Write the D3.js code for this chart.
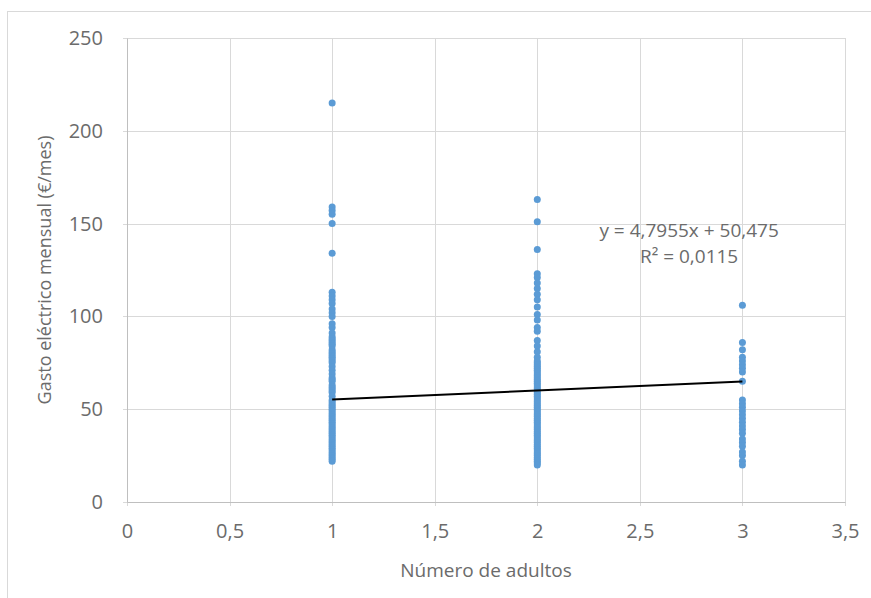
<!DOCTYPE html>
<html>
<head>
<meta charset="utf-8">
<script src="https://cdn.jsdelivr.net/npm/d3@7"></script>
<style>
  html, body { margin: 0; background: #fff; overflow: hidden; }
  svg { display: block; }
  text { font-family: "Open Sans", sans-serif; fill: #6b6b6b; }
</style>
</head>
<body>
<svg id="chart"></svg>
<script>
// gasto mensual (€/mes) por número de adultos
var adultos1 = [215, 159, 157, 155, 150, 134, 113, 111, 109, 107, 104, 102, 100, 96, 94, 91,
  89, 88, 87, 86, 85, 84, 82, 81, 80, 79, 78, 77, 76, 75, 73, 71, 69, 67, 66, 65, 63, 62, 61, 60, 59, 57,
  55, 54, 53, 52, 51, 50, 49, 48, 47, 46, 45, 44, 43, 42, 41, 40, 39, 38, 37, 36, 35, 34,
  33, 32, 31, 30, 29, 28, 27, 26, 25, 24, 23, 22]
var adultos2 = [163, 151, 136, 123, 121, 118, 115, 112, 109, 105, 101, 98, 94, 92, 87, 84, 81,
  78, 76, 75, 74, 73, 72, 71, 70, 69, 68, 67, 66, 65, 64, 63, 62, 61, 60, 59, 58, 57, 56, 55,
  54, 53, 52, 51, 50, 49, 48, 47, 46, 45, 44, 43, 42, 41, 40, 39, 38, 37, 36, 35, 34, 33,
  32, 31, 30, 29, 28, 27, 26, 25, 24, 23, 22, 21, 20]
var adultos3 = [106, 86, 82, 78, 76, 74, 72, 70, 65, 55, 53, 51, 49, 47, 45, 43, 41, 39, 37,
  34, 32, 30, 27, 25, 22, 20]

var xTicks = [0, 0.5, 1, 1.5, 2, 2.5, 3, 3.5]
var yTicks = [0, 50, 100, 150, 200, 250]

// linea de tendencia (Excel)
var pendiente = 4.7955
var ordenada = 50.475
var r2Texto = "R² = 0,0115"
var ecTexto = "y = 4,7955x + 50,475"

var dimensions = {
  width: 871,
  height: 598,
  margin: { top: 38, bottom: 96, right: 26, left: 127 }
}
dimensions.boundedWidth = dimensions.width - dimensions.margin.left - dimensions.margin.right
dimensions.boundedHeight = dimensions.height - dimensions.margin.top - dimensions.margin.bottom

var points = []
adultos1.forEach(function (v) { points.push({ x: 1, y: v }) })
adultos2.forEach(function (v) { points.push({ x: 2, y: v }) })
adultos3.forEach(function (v) { points.push({ x: 3, y: v }) })

var es = d3.formatLocale({ decimal: ",", thousands: ".", grouping: [3], currency: ["", "€"] })
var fmt = es.format("~g")

var svg = d3.select("#chart")
  .attr("width", dimensions.width)
  .attr("height", dimensions.height)

// marco del gráfico
svg.append("rect")
  .attr("x", 7.5).attr("y", 11.5)
  .attr("width", 900).attr("height", 700)
  .attr("fill", "#fff")
  .attr("stroke", "#d9d9d9")

var bounds = svg.append("g")
  .attr("transform", "translate(" + dimensions.margin.left + "," + dimensions.margin.top + ")")

var xScale = d3.scaleLinear()
  .domain([0, 3.5])
  .range([0, dimensions.boundedWidth])

var yScale = d3.scaleLinear()
  .domain([0, 250])
  .range([dimensions.boundedHeight, 0])

// rejilla
bounds.append("g")
  .selectAll("line")
  .data(yTicks)
  .join("line")
  .attr("x1", -4).attr("x2", dimensions.boundedWidth)
  .attr("y1", function (d) { return Math.round(yScale(d)) + 0.5 })
  .attr("y2", function (d) { return Math.round(yScale(d)) + 0.5 })
  .attr("stroke", "#d9d9d9")

bounds.append("g")
  .selectAll("line")
  .data(xTicks)
  .join("line")
  .attr("x1", function (d) { return Math.round(xScale(d)) + 0.5 })
  .attr("x2", function (d) { return Math.round(xScale(d)) + 0.5 })
  .attr("y1", 0).attr("y2", dimensions.boundedHeight + 4)
  .attr("stroke", "#d9d9d9")

// ejes
var yAxis = bounds.append("g")
  .call(d3.axisLeft(yScale).tickValues(yTicks).tickSize(0).tickPadding(24).tickFormat(fmt))
yAxis.select(".domain").attr("stroke", "#bfbfbf")
yAxis.selectAll("text").style("font-size", "20px").attr("fill", "#6b6b6b")

var xAxis = bounds.append("g")
  .attr("transform", "translate(0," + dimensions.boundedHeight + ")")
  .call(d3.axisBottom(xScale).tickValues(xTicks).tickSize(0).tickPadding(22).tickFormat(fmt))
xAxis.select(".domain").attr("stroke", "#bfbfbf")
xAxis.selectAll("text").style("font-size", "20px").attr("fill", "#6b6b6b")

// puntos
bounds.append("g")
  .selectAll("circle")
  .data(points)
  .join("circle")
  .attr("cx", function (d) { return xScale(d.x) })
  .attr("cy", function (d) { return yScale(d.y) })
  .attr("r", 3.5)
  .attr("fill", "#5b9bd5")

// tendencia lineal de x=1 a x=3
bounds.append("line")
  .attr("x1", xScale(1)).attr("y1", yScale(pendiente * 1 + ordenada))
  .attr("x2", xScale(3)).attr("y2", yScale(pendiente * 3 + ordenada))
  .attr("stroke", "#000")
  .attr("stroke-width", 2)

bounds.append("text")
  .attr("x", xScale(2.74)).attr("y", yScale(143))
  .attr("text-anchor", "middle")
  .style("font-size", "19px")
  .text(ecTexto)

bounds.append("text")
  .attr("x", xScale(2.74)).attr("y", yScale(129))
  .attr("text-anchor", "middle")
  .style("font-size", "19px")
  .text(r2Texto)

// títulos de ejes
svg.append("text")
  .attr("x", dimensions.margin.left + xScale(1.75))
  .attr("y", 577)
  .attr("text-anchor", "middle")
  .style("font-size", "19px")
  .text("Número de adultos")

svg.append("text")
  .attr("transform", "translate(51," + (dimensions.margin.top + yScale(125)) + ") rotate(-90)")
  .attr("text-anchor", "middle")
  .style("font-size", "18px")
  .text("Gasto eléctrico mensual (€/mes)")
</script>
</body>
</html>
